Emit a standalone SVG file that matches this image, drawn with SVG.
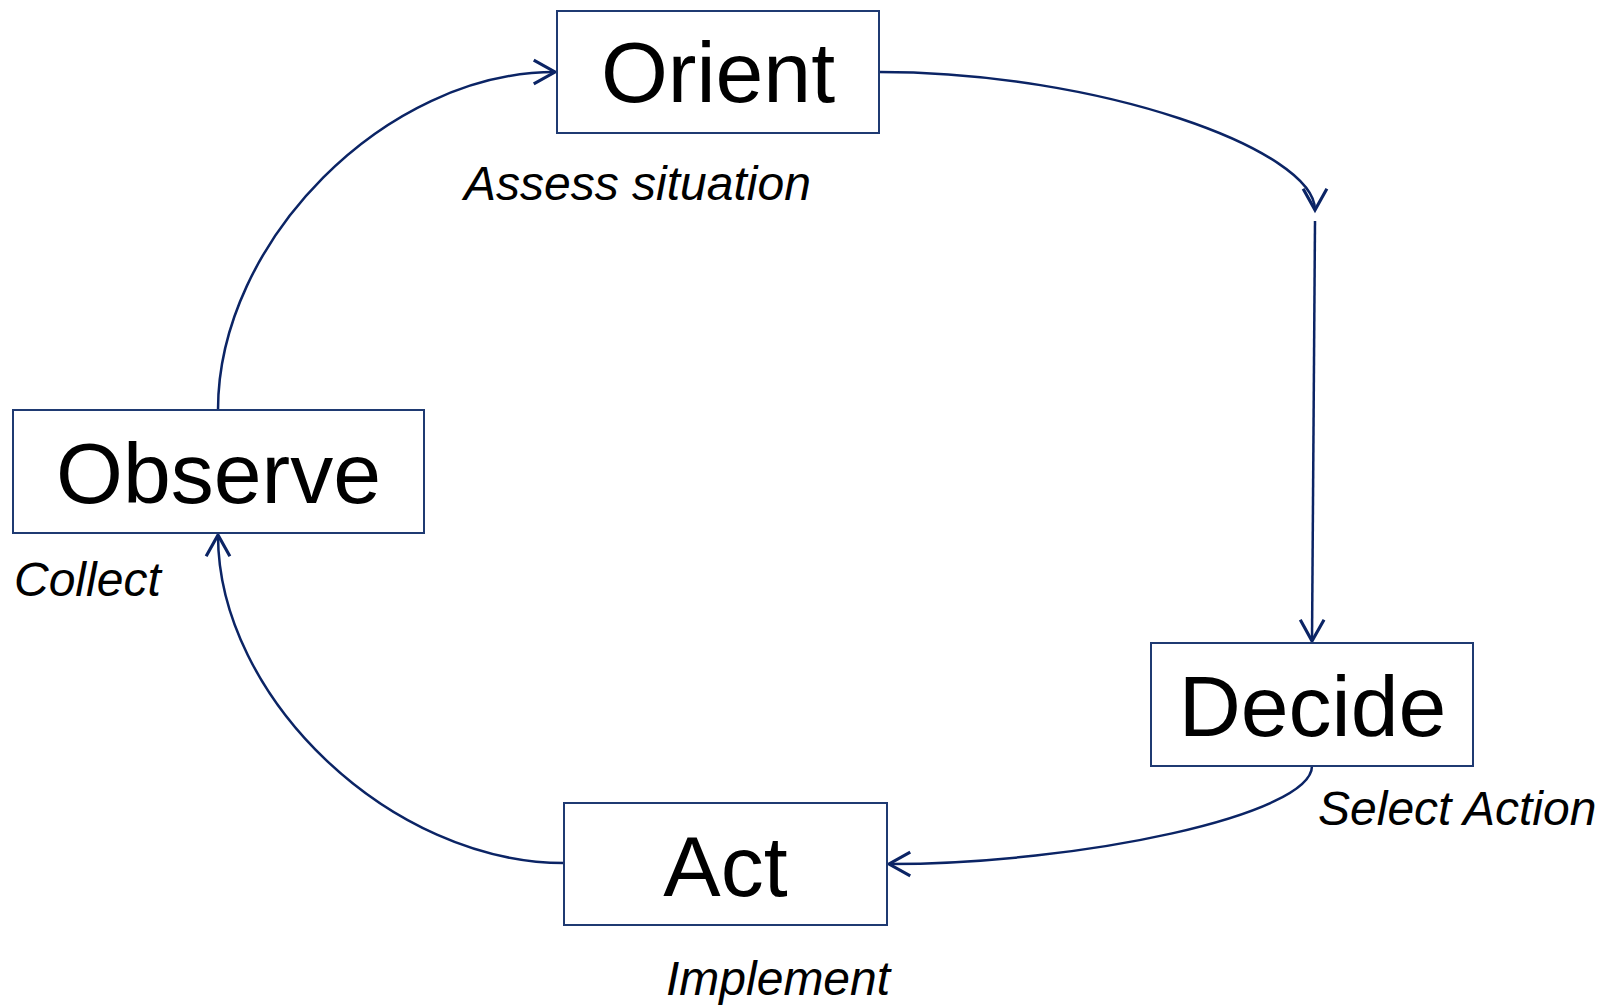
<svg xmlns="http://www.w3.org/2000/svg" width="1602" height="1006" viewBox="0 0 1602 1006">
<style>
.box{fill:#fff;stroke:#1f3a72;stroke-width:2}
.title{font-family:"Liberation Sans",Arial,sans-serif;font-size:86px;fill:#000;text-anchor:middle}
.label{font-family:"Liberation Sans",Arial,sans-serif;font-size:48px;font-style:italic;fill:#000}
.conn{fill:none;stroke:#0b2465;stroke-width:2.5;marker-end:url(#arr)}
</style>
<defs>
<marker id="arr" markerUnits="userSpaceOnUse" markerWidth="30" markerHeight="30" viewBox="-20 -12 24 24" refX="0" refY="0" orient="auto">
<path d="M-17,-9.5 L0,0 L-17,9.5" fill="none" stroke="#0b2465" stroke-width="2.5"/>
</marker>
</defs>
<rect width="1602" height="1006" fill="#fff"/>
<g id="connectors">
<path class="conn" d="M218,410 C218,241 386,72 555,72"/>
<path class="conn" d="M879,72 C1100,72 1315,150 1315,210"/>
<path class="conn" d="M1315,221 L1312,641"/>
<path class="conn" d="M1312,766 C1312,815 1080,864 889,864"/>
<path class="conn" d="M564,863 C391,863 218,698 218,535"/>
</g>
<g id="orient">
<rect class="box" x="557" y="11" width="322" height="122"/>
<text class="title" x="718" y="102">Orient</text>
<text class="label" x="464" y="200">Assess situation</text>
</g>
<g id="observe">
<rect class="box" x="13" y="410" width="411" height="123"/>
<text class="title" x="218.5" y="503">Observe</text>
<text class="label" x="14" y="596">Collect</text>
</g>
<g id="decide">
<rect class="box" x="1151" y="643" width="322" height="123"/>
<text class="title" x="1312.5" y="736">Decide</text>
<text class="label" x="1318" y="825">Select Action</text>
</g>
<g id="act">
<rect class="box" x="564" y="803" width="323" height="122"/>
<text class="title" x="725.5" y="896">Act</text>
<text class="label" x="666" y="995">Implement</text>
</g>
</svg>
